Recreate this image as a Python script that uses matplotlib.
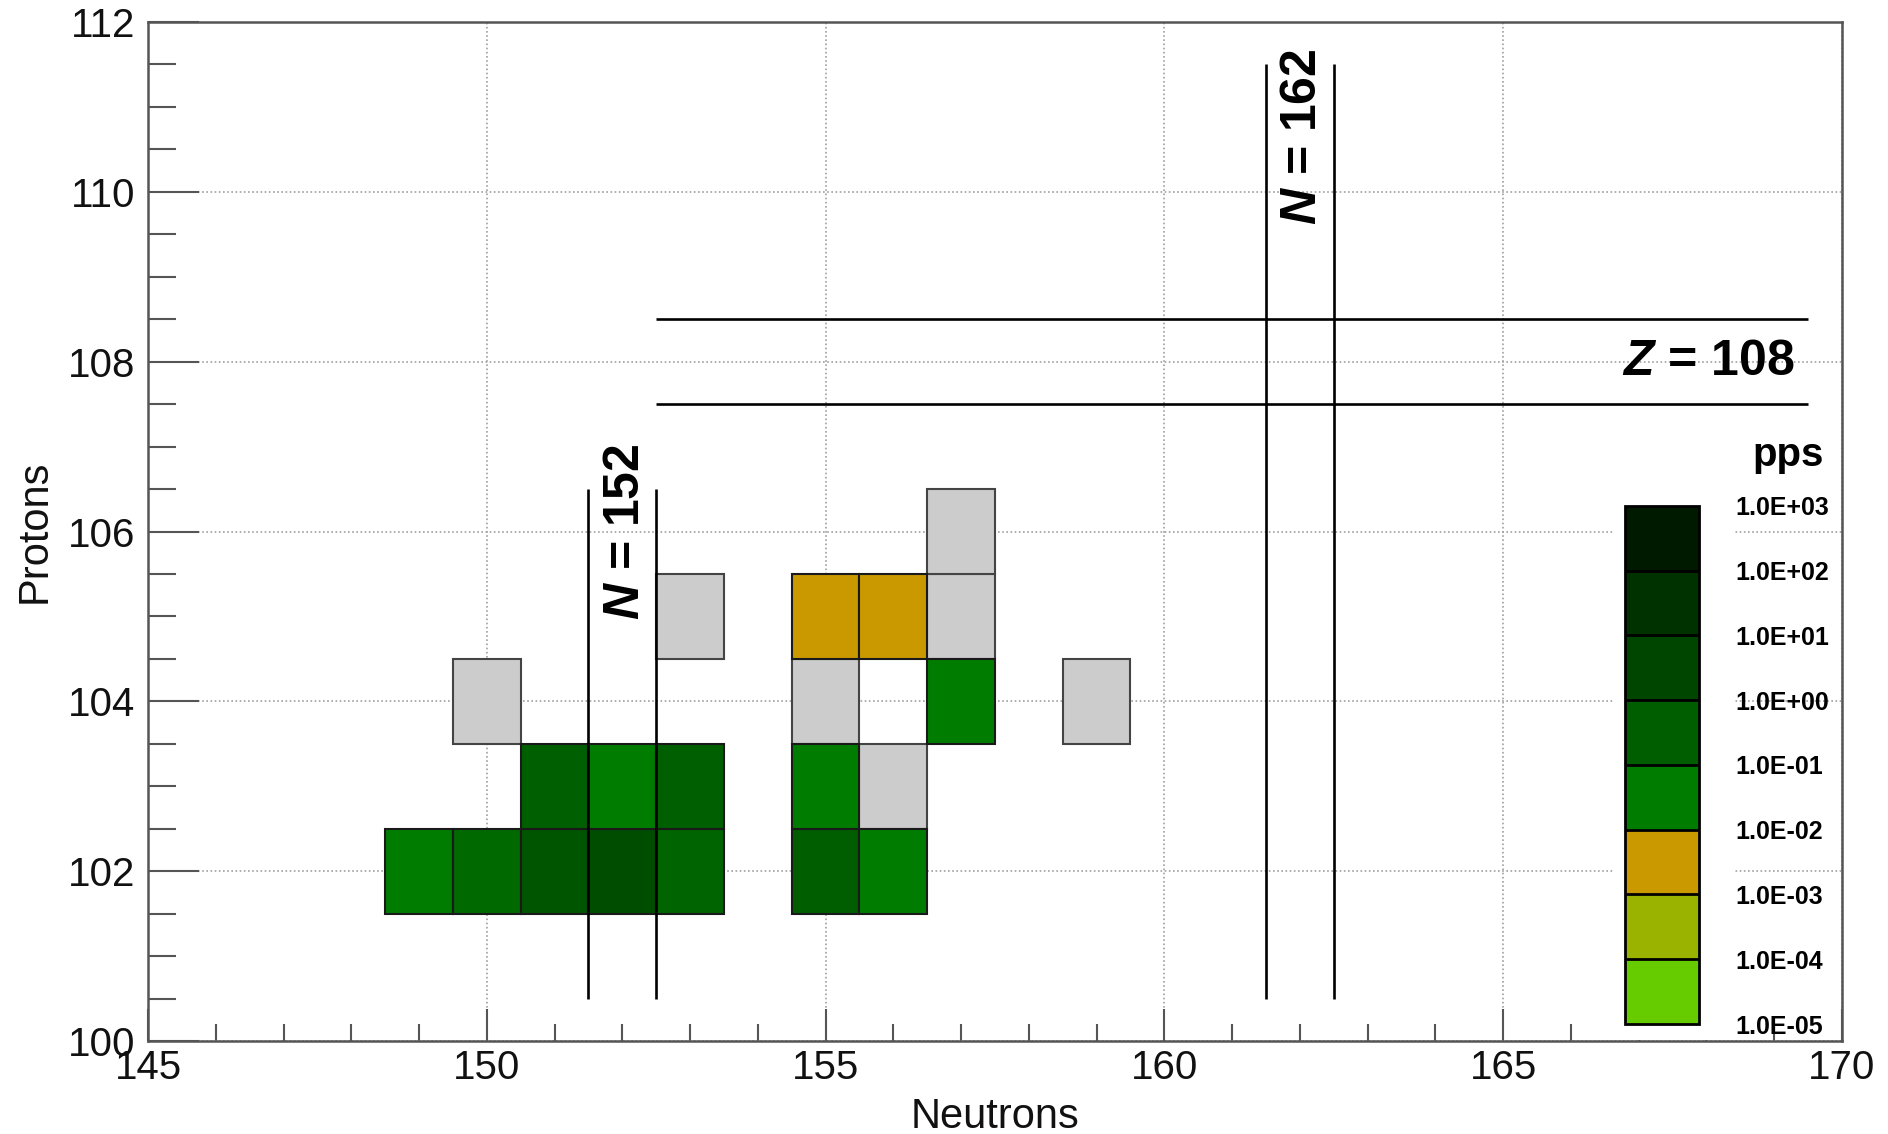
import numpy as np
import matplotlib
matplotlib.use('Agg')
import matplotlib.pyplot as plt
from matplotlib.colors import LinearSegmentedColormap, Normalize
from matplotlib.cm import ScalarMappable
from matplotlib.patches import Rectangle
from matplotlib.ticker import MultipleLocator

plt.rcParams['font.family'] = ['Liberation Sans', 'DejaVu Sans']
plt.rcParams['mathtext.fontset'] = 'custom'
plt.rcParams['mathtext.it'] = 'Liberation Sans:italic:bold'
plt.rcParams['mathtext.rm'] = 'Liberation Sans:bold'

# nuclides with a yield (pps)
cell_n = [149, 150, 151, 152, 153, 155, 156, 151, 152, 153, 155, 157, 155, 156]
cell_z = [102, 102, 102, 102, 102, 102, 102, 103, 103, 103, 103, 104, 105, 105]
cell_pps = [0.032, 0.13, 0.7, 1.5, 0.2, 0.3, 0.032, 0.28, 0.032, 0.28, 0.032, 0.032, 0.0032, 0.0032]

# known nuclides without yield (grey)
gray_n = [150, 155, 159, 156, 153, 157, 157]
gray_z = [104, 104, 104, 103, 105, 105, 106]

# shell closures
shell_n = [152, 162]
shell_n_top = [106.5, 111.5]
shell_z = [108]
shell_z_start = [152.5]

# palette: bins from 1e-5 to 1e3 pps
exps = np.arange(-5, 4)
bin_colors = ['#66cc00', '#99b300', '#cc9900', '#007d00',
              '#005e00', '#004500', '#003300', '#001a00']
cb_labels = [f"1.0E{e:+03d}" for e in exps]

nodes = [0.0] + [(k + 0.5) / len(bin_colors) for k in range(len(bin_colors))] + [1.0]
cols = [bin_colors[0]] + bin_colors + [bin_colors[-1]]
cmap = LinearSegmentedColormap.from_list('pps', list(zip(nodes, cols)))
norm = Normalize(exps[0], exps[-1])

fig = plt.figure(figsize=(18.88, 11.34), dpi=100)
ax = fig.add_axes([0.0784, 0.0820, 0.8972, 0.8986])

ax.set_xlim(145, 170)
ax.set_ylim(100, 112)
ax.set_axisbelow(True)
ax.grid(True, which='major', linestyle=(0, (1, 1.5)), color='#a0a0a0', lw=1.2)

# white box behind the palette
ax.add_patch(Rectangle((0.8543, 0.083), 0.0641, 0.494, transform=fig.transFigure,
                       facecolor='white', edgecolor='none', zorder=1))

ax.bar(gray_n, 1, width=1, bottom=np.array(gray_z) - 0.5, color='#cccccc',
       edgecolor='#444444', linewidth=1.5, zorder=2)
ax.bar(cell_n, 1, width=1, bottom=np.array(cell_z) - 0.5,
       color=cmap(norm(np.log10(cell_pps))), edgecolor='#1a1a1a', linewidth=1.5, zorder=2)

# shell lines
for n, top in zip(shell_n, shell_n_top):
    ax.vlines([n - 0.5, n + 0.5], 100.5, top, color='black', lw=1.9, zorder=3)
for z, x0 in zip(shell_z, shell_z_start):
    ax.hlines([z - 0.5, z + 0.5], x0, 169.5, color='black', lw=1.9, zorder=3)

ax.text(152.05, 106.0, f"$N$ = {shell_n[0]}", rotation=90, ha='center', va='center',
        fontsize=36, fontweight='bold', zorder=4)
ax.text(162.05, 110.65, f"$N$ = {shell_n[1]}", rotation=90, ha='center', va='center',
        fontsize=36, fontweight='bold', zorder=4)
ax.text(169.3, 108.0, f"$Z$ = {shell_z[0]}", ha='right', va='center',
        fontsize=36, fontweight='bold', zorder=4)

# axes
ax.xaxis.set_major_locator(MultipleLocator(5))
ax.xaxis.set_minor_locator(MultipleLocator(1))
ax.yaxis.set_major_locator(MultipleLocator(2))
ax.yaxis.set_minor_locator(MultipleLocator(0.5))
ax.tick_params(axis='y', which='major', direction='in', length=37, width=1.5,
               color='#555555', labelsize=29, pad=9, labelcolor='#111111')
ax.tick_params(axis='y', which='minor', direction='in', length=20, width=1.5, color='#555555')
ax.tick_params(axis='x', which='major', direction='in', length=23, width=1.5,
               color='#555555', labelsize=29, pad=6, labelcolor='#111111')
ax.tick_params(axis='x', which='minor', direction='in', length=12, width=1.5, color='#555555')
for s in ax.spines.values():
    s.set_color('#555555')
    s.set_linewidth(1.8)

ax.set_xlabel('Neutrons', fontsize=30, color='#111111')
ax.set_ylabel('Protons', fontsize=30, color='#111111')
ax.xaxis.set_label_coords(0.5, -0.055)
ax.yaxis.set_label_coords(-0.055, 0.5)

# palette
cax = fig.add_axes([0.8607, 0.0970, 0.0392, 0.4568])
sm = ScalarMappable(norm=norm, cmap=cmap)
cb = fig.colorbar(sm, cax=cax, boundaries=exps, values=exps[:-1] + 0.5, drawedges=True)
cb.set_ticks(exps)
cb.set_ticklabels(cb_labels, fontweight='bold')
cax.tick_params(length=0, pad=26, labelsize=18)
cb.outline.set_linewidth(2)
cb.outline.set_edgecolor('black')
cb.dividers.set_linewidth(2)
cb.dividers.set_color('black')
fig.text(1788 / 1888, 1 - 455 / 1134, 'pps', ha='center', va='center',
         fontsize=29, fontweight='bold')

plt.savefig('out.png', dpi=100)
plt.close()
